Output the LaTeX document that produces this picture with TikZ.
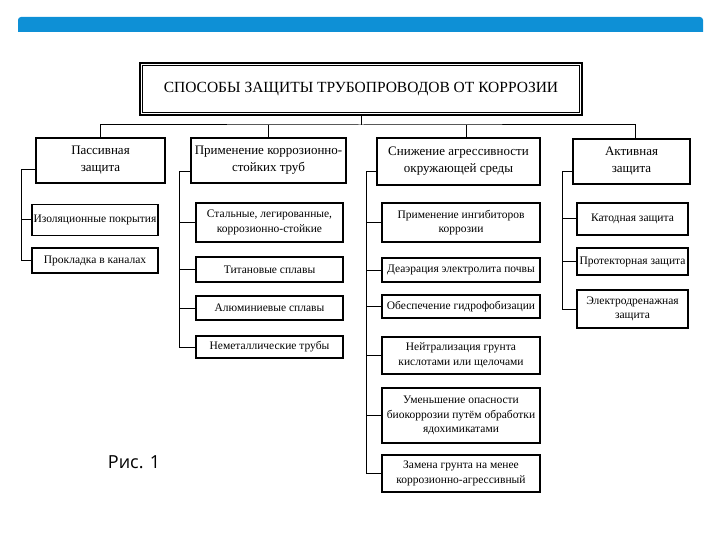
\documentclass[tikz,border=0pt]{standalone}
\usepackage{fontspec}
\setmainfont{Liberation Serif}
\newfontfamily\figfont{Open Sans}
\definecolor{barblue}{RGB}{14,144,214}

\begin{document}
\begin{tikzpicture}[x=1pt,y=-1pt,
    catbox/.style={draw, line width=2.4pt, align=center, inner sep=1pt, font=\fontsize{13}{17}\selectfont},
    subbox/.style={draw, line width=1.4pt, align=center, inner sep=1pt, font=\fontsize{11.5}{14.5}\selectfont},
    link/.style={line width=1pt}]
			%%%%% FRAME %%%%%
			\useasboundingbox (0,0) rectangle (720,540);
			\fill[barblue] (18,32) [rounded corners=3] -- (18,17) -- (703,17) [sharp corners] -- (703,32) -- cycle;
			
			%%%%% TITLE %%%%%
			\node[draw, line width=2.2pt, minimum width=442, minimum height=52, font=\fontsize{15.5}{18}\selectfont] (title) at (361,89) {СПОСОБЫ ЗАЩИТЫ ТРУБОПРОВОДОВ ОТ КОРРОЗИИ};
			\draw[line width=0.9pt] ([shift={(4,4)}]title.north west) rectangle ([shift={(-4,-4)}]title.south east);
			
			%%%%% GROUPS %%%%%
			\node[catbox, minimum width=129, minimum height=45] (pas) at (100.5,160.5) {Пассивная\\защита};
			\node[catbox, minimum width=155, minimum height=45] (tube) at (268.5,160.5) {Применение коррозионно-\\стойких труб};
			\node[catbox, minimum width=163, minimum height=47] (env) at (458.5,161.5) {Снижение агрессивности\\окружающей среды};
			\node[catbox, minimum width=117, minimum height=45] (act) at (631.5,161.5) {Активная\\защита};
			
			\coordinate (bus) at (361,125);
			\draw[link] (title.south) -- (bus);
			\draw[link] (pas.north) |- (bus) -| ([xshift=4]act.north);
			\draw[link] (tube.north) -- (tube.north |- bus);
			\draw[link] ([xshift=8]env.north) -- ([xshift=8]env.north |- bus);
			
			%%%%% PASSIVE %%%%%
			\node[subbox, minimum width=126, minimum height=31] (iso) at (95,220) {Изоляционные покрытия};
			\node[subbox, minimum width=126, minimum height=25] (chan) at (95,260.5) {Прокладка в каналах};
			\coordinate (t1) at (21,170);
			\draw[link] (pas.west |- t1) -- (t1) |- (iso.west);
			\draw[link] (t1) |- (chan.west);
			
			%%%%% TUBES %%%%%
			\node[subbox, minimum width=147, minimum height=39] (steel) at (269.5,222.5) {Стальные, легированные,\\коррозионно-стойкие};
			\node[subbox, minimum width=147, minimum height=25] (ti) at (269.5,269.5) {Титановые сплавы};
			\node[subbox, minimum width=147, minimum height=24] (al) at (269.5,308) {Алюминиевые сплавы};
			\node[subbox, minimum width=147, minimum height=22] (nonmet) at (269.5,347) {Неметаллические трубы};
			\coordinate (t2) at (179,172);
			\draw[link] (tube.west |- t2) -- (t2) |- (steel.west);
			\draw[link] (t2) |- (ti.west);
			\draw[link] (t2) |- (al.west);
			\draw[link] (t2) |- (nonmet.west);
			
			%%%%% ENVIRONMENT %%%%%
			\node[subbox, minimum width=158, minimum height=39] (inhib) at (461,222.5) {Применение ингибиторов\\коррозии};
			\node[subbox, minimum width=158, minimum height=24] (deaer) at (461,270) {Деаэрация электролита почвы};
			\node[subbox, minimum width=158, minimum height=23] (hydro) at (461,306.5) {Обеспечение гидрофобизации};
			\node[subbox, minimum width=158, minimum height=37] (neutr) at (461,355.5) {Нейтрализация грунта\\кислотами или щелочами};
			\node[subbox, minimum width=158, minimum height=55] (bio) at (461,415.5) {Уменьшение опасности\\биокоррозии путём обработки\\ядохимикатами};
			\node[subbox, minimum width=158, minimum height=37] (soil) at (461,473.5) {Замена грунта на менее\\коррозионно-агрессивный};
			\coordinate (t3) at (366,172);
			\draw[link] (env.west |- t3) -- (t3) |- (inhib.west);
			\draw[link] (t3) |- (deaer.west);
			\draw[link] (t3) |- (hydro.west);
			\draw[link] (t3) |- (neutr.west);
			\draw[link] (t3) |- (bio.west);
			\draw[link] (t3) |- (soil.west);
			
			%%%%% ACTIVE %%%%%
			\node[subbox, minimum width=111, minimum height=32] (cath) at (632.5,219) {Катодная защита};
			\node[subbox, minimum width=111, minimum height=27] (prot) at (632.5,261.5) {Протекторная защита};
			\node[subbox, minimum width=111, minimum height=38] (drain) at (632.5,309) {Электродренажная\\защита};
			\coordinate (t4) at (562,172);
			\draw[link] (act.west |- t4) -- (t4) |- (cath.west);
			\draw[link] (t4) |- (prot.west);
			\draw[link] (t4) |- (drain.west);
			
			%%%%% CAPTION %%%%%
			\node[font=\figfont\fontsize{18}{20}\selectfont, inner sep=0pt] (fig) at (134,462) {Рис. 1};
		\end{tikzpicture}
\end{document}
